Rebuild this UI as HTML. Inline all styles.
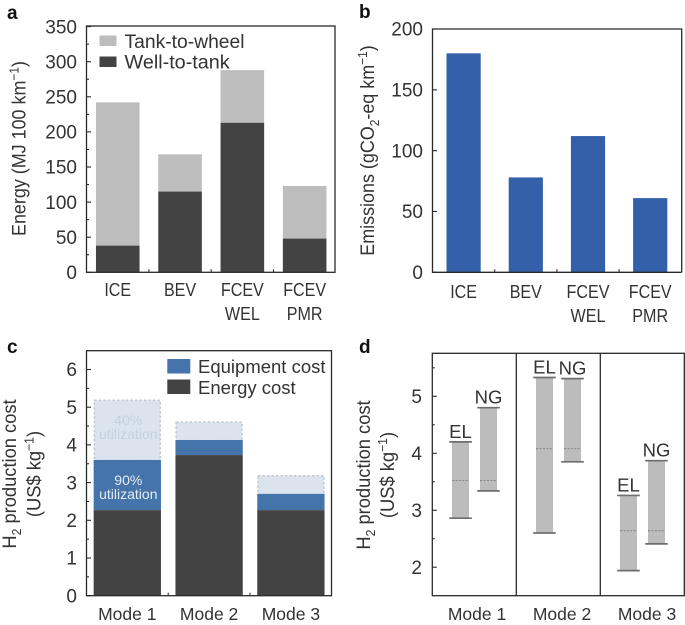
<!DOCTYPE html>
<html lang="en">
<head>
<meta charset="utf-8">
<title>Energy, emissions and hydrogen production cost charts</title>
<style>
html,body{margin:0;padding:0;background:#fff;width:685px;height:625px;overflow:hidden}
svg{display:block}
text{font-family:"Liberation Sans",sans-serif;fill:#333}
.letter{font-weight:bold;font-size:19px;fill:#111}
.tick{font-size:19px;text-anchor:end}
.cat{font-size:17.5px;text-anchor:middle}
.cat-narrow{font-size:18.5px;text-anchor:middle}
.title{font-size:19.5px;text-anchor:middle}
.sub{font-size:13px}
</style>
</head>
<body>
<svg id="chart" xmlns="http://www.w3.org/2000/svg" width="685" height="625" viewBox="0 0 685 625">
  <text class="letter" x="7" y="19">a</text>
  <text class="letter" x="359" y="18">b</text>
  <text class="letter" x="7" y="353">c</text>
  <text class="letter" x="359" y="353">d</text>

  <g id="panelA"></g>
  <g id="panelB"></g>
  <g id="panelC"></g>
  <g id="panelD"></g>

  <text class="title" transform="translate(25.5,148.5) rotate(-90) scale(0.92,1)">Energy (MJ 100 km<tspan class="sub" dy="-7">−1</tspan><tspan dy="7">)</tspan></text>
  <text class="title" transform="translate(374,150.5) rotate(-90) scale(0.92,1)">Emissions (gCO<tspan class="sub" dy="5">2</tspan><tspan dy="-5">-eq km</tspan><tspan class="sub" dy="-7">−1</tspan><tspan dy="7">)</tspan></text>
  <text class="title" transform="translate(16,474) rotate(-90) scale(0.94,1)">H<tspan class="sub" dy="5">2</tspan><tspan dy="-5"> production cost</tspan></text>
  <text class="title" transform="translate(40.5,474) rotate(-90) scale(0.94,1)">(US$ kg<tspan class="sub" dy="-7">−1</tspan><tspan dy="7">)</tspan></text>
  <text class="title" transform="translate(370,475) rotate(-90) scale(0.94,1)">H<tspan class="sub" dy="5">2</tspan><tspan dy="-5"> production cost</tspan></text>
  <text class="title" transform="translate(394,475) rotate(-90) scale(0.94,1)">(US$ kg<tspan class="sub" dy="-7">−1</tspan><tspan dy="7">)</tspan></text>

  <g>
    <rect x="99.5" y="35.5" width="17" height="10.5" fill="#bdbdbd"/>
    <text x="124.5" y="48" font-size="19.3">Tank-to-wheel</text>
    <rect x="99.5" y="56.5" width="17" height="10.5" fill="#434343"/>
    <text x="124.5" y="68.5" font-size="19.8">Well-to-tank</text>
  </g>
  <g>
    <rect x="167.3" y="359" width="23" height="14.5" fill="#4474aa"/>
    <text x="198" y="373" font-size="18.5">Equipment cost</text>
    <rect x="167.3" y="379.5" width="23" height="14.5" fill="#434343"/>
    <text x="198" y="394" font-size="18.5">Energy cost</text>
  </g>
</svg>
<script>
const NS = 'http://www.w3.org/2000/svg';

// Panel a
const vehicleCats = [['ICE'], ['BEV'], ['FCEV', 'WEL'], ['FCEV', 'PMR']];
const wellToTank = [38, 115, 213, 48];
const tankToWheelTotal = [242, 168, 288, 123];
const energyTicks = [0, 50, 100, 150, 200, 250, 300, 350];
const energyMinorTicks = [25, 75, 125, 175, 225, 275, 325];

// Panel b
const emissions = [180, 78, 112, 61];
const emissionTicks = [0, 50, 100, 150, 200];

// Panel c
const modeCats = ['Mode 1', 'Mode 2', 'Mode 3'];
const energyCost = [2.27, 3.73, 2.27];
const equipmentTop90 = [3.6, 4.13, 2.7];
const equipmentTop40 = [5.2, 4.62, 3.2];
const costTicks = [0, 1, 2, 3, 4, 5, 6];
const costMinorTicks = [0.5, 1.5, 2.5, 3.5, 4.5, 5.5];

// Panel d
const rangeLabels = ['EL', 'NG'];
const rangeHigh = [[4.2, 4.8], [5.33, 5.31], [3.26, 3.87]];
const rangeLow = [[2.86, 3.34], [2.6, 3.85], [1.94, 2.41]];
const rangeMid = [3.52, 4.08, 2.64];
const rangeTicks = [2, 3, 4, 5];
const rangeMinorTicks = [2.5, 3.5, 4.5, 5.5];

function make(parent, tag, attrs, content) {
  const el = document.createElementNS(NS, tag);
  for (const k in attrs) el.setAttribute(k, attrs[k]);
  if (content !== undefined) el.textContent = content;
  parent.appendChild(el);
  return el;
}

function linear(d0, d1, r0, r1) {
  return v => r0 + (v - d0) * (r1 - r0) / (d1 - d0);
}

const frameStyle = {fill: 'none', stroke: '#2a2a2a', 'stroke-width': 1.3};
const tickStyle = {stroke: '#2a2a2a', 'stroke-width': 1.1};

function yAxis(g, prefix, y, left, labelX, majors, minors, fmt) {
  majors.forEach(v => {
    const t = make(g, 'line', Object.assign({x1: left, x2: left + 4.5, y1: y(v), y2: y(v)}, tickStyle));
    
    
    const l = make(g, 'text', {class: 'tick', x: labelX, y: y(v) + 6.7}, fmt ? fmt(v) : v);
    
    
  });
  minors.forEach(v => {
    const t = make(g, 'line', Object.assign({x1: left, x2: left + 2.5, y1: y(v), y2: y(v)}, tickStyle));
    
    
  });
}

function categoryLabels(g, prefix, cats, cx, base, squeeze) {
  cats.forEach((lines, i) => {
    const arr = Array.isArray(lines) ? lines : [lines];
    arr.forEach((s, j) => {
      const l = make(g, 'text', {class: squeeze ? 'cat-narrow' : 'cat', x: cx(i), y: base + j * 24}, s);
      
      
      if (squeeze) {
        l.setAttribute('textLength', (l.getComputedTextLength() * squeeze).toFixed(1));
        l.setAttribute('lengthAdjust', 'spacingAndGlyphs');
      }
    });
  });
}

function bottomTicks(g, prefix, count, cx, step, bottom) {
  for (let i = 0; i < count - 1; i++) {
    const x = cx(i) + step / 2;
    const t = make(g, 'line', Object.assign({x1: x, x2: x, y1: bottom, y2: bottom - 3}, tickStyle));
    
    
  }
}

/* Panel a */
(function () {
  const g = document.getElementById('panelA');
  const y = linear(0, 350, 272.3, 26.6);
  const cx = i => 117.75 + i * 62.3;
  const w = 43.6;
  vehicleCats.forEach((c, i) => {
    const top = make(g, 'rect', {x: cx(i) - w / 2, y: y(tankToWheelTotal[i]), width: w, height: y(wellToTank[i]) - y(tankToWheelTotal[i]), fill: '#bdbdbd'});
    
    
    const bot = make(g, 'rect', {x: cx(i) - w / 2, y: y(wellToTank[i]), width: w, height: y(0) - y(wellToTank[i]), fill: '#434343'});
    
    
  });
  yAxis(g, 'panel-a', y, 86.5, 77, energyTicks, energyMinorTicks);
  bottomTicks(g, 'panel-a', 4, cx, 62.3, 272.3);
  categoryLabels(g, 'panel-a', vehicleCats, cx, 296, 0.87);
  const f = make(g, 'rect', Object.assign({x: 86.5, y: 26, width: 248.5, height: 246.3}, frameStyle));
  
  
})();

/* Panel b */
(function () {
  const g = document.getElementById('panelB');
  const y = linear(0, 200, 272.3, 29);
  const cx = i => 463.6 + i * 62.2;
  const w = 34.2;
  emissions.forEach((v, i) => {
    const b = make(g, 'rect', {x: cx(i) - w / 2, y: y(v), width: w, height: y(0) - y(v), fill: '#3460a9'});
    
    
  });
  yAxis(g, 'panel-b', y, 432.5, 423, emissionTicks, []);
  bottomTicks(g, 'panel-b', 4, cx, 62.2, 272.3);
  categoryLabels(g, 'panel-b', vehicleCats, cx, 298, 0.87);
  const f = make(g, 'path', Object.assign({d: 'M681.7 272.3H432.5V29H681.7V272.3'}, frameStyle));
  
  
})();

/* Panel c */
(function () {
  const g = document.getElementById('panelC');
  const y = linear(0, 6, 595.7, 369.5);
  const cx = i => 127.3 + i * 81.8;
  const w = 67.3;
  modeCats.forEach((c, i) => {
    const pale = make(g, 'rect', {x: cx(i) - w / 2 + 0.7, y: y(equipmentTop40[i]) + 0.7, width: w - 1.4, height: y(equipmentTop90[i]) - y(equipmentTop40[i]), fill: '#dbe3ee', stroke: '#c4cad1', 'stroke-width': 1.6, 'stroke-dasharray': '2.5 2'});
    
    
    const eq = make(g, 'rect', {x: cx(i) - w / 2, y: y(equipmentTop90[i]), width: w, height: y(energyCost[i]) - y(equipmentTop90[i]), fill: '#4474aa'});
    
    
    const en = make(g, 'rect', {x: cx(i) - w / 2, y: y(energyCost[i]), width: w, height: y(0) - y(energyCost[i]), fill: '#434343'});
    
    
  });
  yAxis(g, 'panel-c', y, 86.5, 77, costTicks, costMinorTicks);
  bottomTicks(g, 'panel-c', 3, cx, 81.8, 595.7);
  categoryLabels(g, 'panel-c', modeCats, cx, 620);
  const annotations = [
    ['40%', 425, '#c3d0e0'], ['utilization', 439, '#c3d0e0'],
    ['90%', 485, '#e3ebf4'], ['utilization', 499, '#e3ebf4']
  ];
  annotations.forEach(a => {
    const t = make(g, 'text', {x: cx(0) + 1, y: a[1], 'font-size': 14, 'text-anchor': 'middle', style: 'fill:' + a[2]}, a[0]);
    
    
  });
  const f = make(g, 'rect', Object.assign({x: 86.5, y: 350.7, width: 245, height: 245}, frameStyle));
  
  
})();

/* Panel d */
(function () {
  const g = document.getElementById('panelD');
  const y = linear(2, 5, 567.2, 396.3);
  const cx = i => 474.5 + i * 84;
  const w = 17;
  const capW = 22.6;
  modeCats.forEach((c, i) => {
    rangeLabels.forEach((name, j) => {
      const x = cx(i) + (j === 0 ? -14 : 14);
      const hi = rangeHigh[i][j], lo = rangeLow[i][j];
      const b = make(g, 'rect', {x: x - w / 2, y: y(hi), width: w, height: y(lo) - y(hi), fill: '#bcbcbc'});
      
      
      const capT = make(g, 'line', {x1: x - capW / 2, x2: x + capW / 2, y1: y(hi), y2: y(hi), stroke: '#6e6e6e', 'stroke-width': 1.7});
      
      
      const capB = make(g, 'line', {x1: x - capW / 2, x2: x + capW / 2, y1: y(lo), y2: y(lo), stroke: '#6e6e6e', 'stroke-width': 1.7});
      
      
      const mid = make(g, 'line', {x1: x - w / 2, x2: x + w / 2, y1: y(rangeMid[i]), y2: y(rangeMid[i]), stroke: '#808080', 'stroke-width': 0.9, 'stroke-dasharray': '2.2 1.2'});
      
      
      const t = make(g, 'text', {x: x, y: y(hi) - 4, 'font-size': 18.5, 'text-anchor': 'middle'}, name);
      
      
    });
  });
  yAxis(g, 'panel-d', y, 432.3, 422, rangeTicks, rangeMinorTicks);
  categoryLabels(g, 'panel-d', modeCats, i => 477 + i * 85, 620);
  const f = make(g, 'rect', Object.assign({x: 432.3, y: 353.3, width: 252, height: 242.4}, frameStyle));
  
  
  [516.3, 600.3].forEach(x => {
    const d = make(g, 'line', {x1: x, x2: x, y1: 353.3, y2: 595.7, stroke: '#2a2a2a', 'stroke-width': 1.3});
    
    
  });
})();
</script>
</body>
</html>
